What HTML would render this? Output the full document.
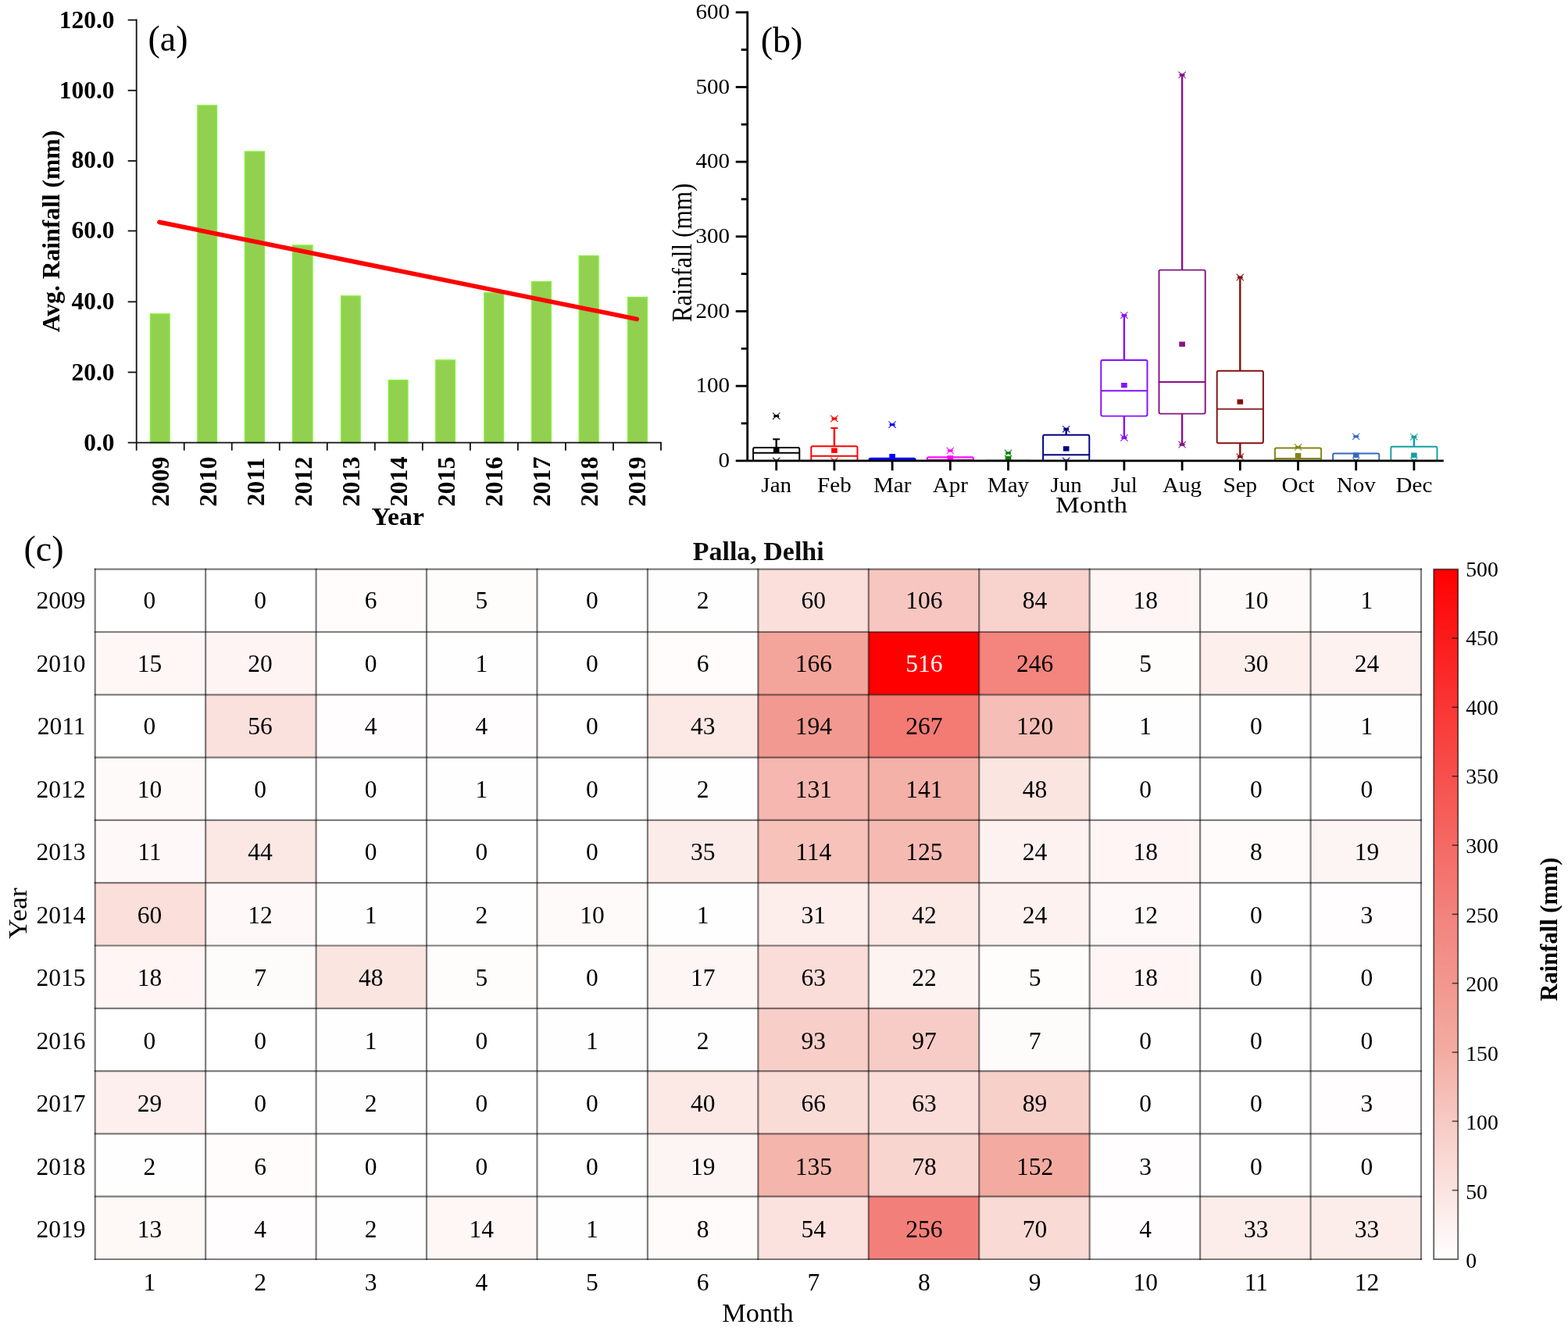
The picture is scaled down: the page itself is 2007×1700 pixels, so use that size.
<!DOCTYPE html>
<html lang="en"><head><meta charset="utf-8"><title>Rainfall at Palla, Delhi</title>
<style>html,body{margin:0;padding:0;background:#fff}body{width:2007px;height:1700px;overflow:hidden}svg{display:block;font-family:"Liberation Serif","DejaVu Serif",serif}</style></head><body>
<svg width="2007" height="1700" viewBox="0 0 2007 1700">
<rect x="0" y="0" width="2007" height="1700" fill="#ffffff"/>
<g id="panel-a">
<rect x="192.55" y="401.96" width="24.50" height="164.74" fill="#92d050" stroke="#82ee3a" stroke-width="1.5"/>
<rect x="252.95" y="135.02" width="24.50" height="431.68" fill="#92d050" stroke="#82ee3a" stroke-width="1.5"/>
<rect x="313.55" y="194.09" width="24.80" height="372.61" fill="#92d050" stroke="#82ee3a" stroke-width="1.5"/>
<rect x="374.65" y="314.03" width="25.30" height="252.67" fill="#92d050" stroke="#82ee3a" stroke-width="1.5"/>
<rect x="436.75" y="378.97" width="24.30" height="187.73" fill="#92d050" stroke="#82ee3a" stroke-width="1.5"/>
<rect x="497.45" y="486.74" width="24.40" height="79.96" fill="#92d050" stroke="#82ee3a" stroke-width="1.5"/>
<rect x="557.85" y="461.03" width="24.50" height="105.67" fill="#92d050" stroke="#82ee3a" stroke-width="1.5"/>
<rect x="619.95" y="374.91" width="24.50" height="191.79" fill="#92d050" stroke="#82ee3a" stroke-width="1.5"/>
<rect x="680.75" y="360.70" width="24.50" height="206.00" fill="#92d050" stroke="#82ee3a" stroke-width="1.5"/>
<rect x="741.35" y="327.56" width="24.70" height="239.14" fill="#92d050" stroke="#82ee3a" stroke-width="1.5"/>
<rect x="803.75" y="380.55" width="24.50" height="186.15" fill="#92d050" stroke="#82ee3a" stroke-width="1.5"/>
<line x1="174.70" y1="24.60" x2="174.70" y2="567.70" stroke="#111" stroke-width="1.8"/>
<line x1="163.70" y1="566.70" x2="847.00" y2="566.70" stroke="#111" stroke-width="1.8"/>
<text x="146.50" y="576.90" font-size="31.5" text-anchor="end" font-weight="bold" fill="#000">0.0</text>
<line x1="163.70" y1="476.52" x2="174.70" y2="476.52" stroke="#111" stroke-width="1.8"/>
<text x="146.50" y="486.82" font-size="31.5" text-anchor="end" font-weight="bold" fill="#000">20.0</text>
<line x1="163.70" y1="386.33" x2="174.70" y2="386.33" stroke="#111" stroke-width="1.8"/>
<text x="146.50" y="396.33" font-size="31.5" text-anchor="end" font-weight="bold" fill="#000">40.0</text>
<line x1="163.70" y1="295.55" x2="174.70" y2="295.55" stroke="#111" stroke-width="1.8"/>
<text x="146.50" y="305.25" font-size="31.5" text-anchor="end" font-weight="bold" fill="#000">60.0</text>
<line x1="163.70" y1="205.97" x2="174.70" y2="205.97" stroke="#111" stroke-width="1.8"/>
<text x="146.50" y="215.27" font-size="31.5" text-anchor="end" font-weight="bold" fill="#000">80.0</text>
<line x1="163.70" y1="115.78" x2="174.70" y2="115.78" stroke="#111" stroke-width="1.8"/>
<text x="146.50" y="126.08" font-size="31.5" text-anchor="end" font-weight="bold" fill="#000">100.0</text>
<line x1="163.70" y1="25.60" x2="174.70" y2="25.60" stroke="#111" stroke-width="1.8"/>
<text x="146.50" y="35.70" font-size="31.5" text-anchor="end" font-weight="bold" fill="#000">120.0</text>
<line x1="174.70" y1="566.70" x2="174.70" y2="576.70" stroke="#111" stroke-width="1.8"/>
<line x1="235.73" y1="566.70" x2="235.73" y2="576.70" stroke="#111" stroke-width="1.8"/>
<line x1="296.75" y1="566.70" x2="296.75" y2="576.70" stroke="#111" stroke-width="1.8"/>
<line x1="357.78" y1="566.70" x2="357.78" y2="576.70" stroke="#111" stroke-width="1.8"/>
<line x1="418.81" y1="566.70" x2="418.81" y2="576.70" stroke="#111" stroke-width="1.8"/>
<line x1="479.84" y1="566.70" x2="479.84" y2="576.70" stroke="#111" stroke-width="1.8"/>
<line x1="540.86" y1="566.70" x2="540.86" y2="576.70" stroke="#111" stroke-width="1.8"/>
<line x1="601.89" y1="566.70" x2="601.89" y2="576.70" stroke="#111" stroke-width="1.8"/>
<line x1="662.92" y1="566.70" x2="662.92" y2="576.70" stroke="#111" stroke-width="1.8"/>
<line x1="723.95" y1="566.70" x2="723.95" y2="576.70" stroke="#111" stroke-width="1.8"/>
<line x1="784.97" y1="566.70" x2="784.97" y2="576.70" stroke="#111" stroke-width="1.8"/>
<line x1="846.00" y1="566.70" x2="846.00" y2="576.70" stroke="#111" stroke-width="1.8"/>
<text transform="translate(216.01 616.60) rotate(-90) scale(1.015 1)" font-size="31.5" text-anchor="middle" font-weight="bold" fill="#000">2009</text>
<text transform="translate(277.04 616.60) rotate(-90) scale(1.015 1)" font-size="31.5" text-anchor="middle" font-weight="bold" fill="#000">2010</text>
<text transform="translate(338.07 616.60) rotate(-90) scale(1.015 1)" font-size="31.5" text-anchor="middle" font-weight="bold" fill="#000">2011</text>
<text transform="translate(399.10 616.60) rotate(-90) scale(1.015 1)" font-size="31.5" text-anchor="middle" font-weight="bold" fill="#000">2012</text>
<text transform="translate(460.12 616.60) rotate(-90) scale(1.015 1)" font-size="31.5" text-anchor="middle" font-weight="bold" fill="#000">2013</text>
<text transform="translate(521.15 616.60) rotate(-90) scale(1.015 1)" font-size="31.5" text-anchor="middle" font-weight="bold" fill="#000">2014</text>
<text transform="translate(582.18 616.60) rotate(-90) scale(1.015 1)" font-size="31.5" text-anchor="middle" font-weight="bold" fill="#000">2015</text>
<text transform="translate(643.20 616.60) rotate(-90) scale(1.015 1)" font-size="31.5" text-anchor="middle" font-weight="bold" fill="#000">2016</text>
<text transform="translate(704.23 616.60) rotate(-90) scale(1.015 1)" font-size="31.5" text-anchor="middle" font-weight="bold" fill="#000">2017</text>
<text transform="translate(765.26 616.60) rotate(-90) scale(1.015 1)" font-size="31.5" text-anchor="middle" font-weight="bold" fill="#000">2018</text>
<text transform="translate(826.29 616.60) rotate(-90) scale(1.015 1)" font-size="31.5" text-anchor="middle" font-weight="bold" fill="#000">2019</text>
<line x1="204.0" y1="284.4" x2="815.2" y2="408.5" stroke="#ff0000" stroke-width="5.7" stroke-linecap="round"/>
<text transform="translate(76.00 296.00) rotate(-90) scale(1.02 1)" font-size="31" text-anchor="middle" font-weight="bold" fill="#000">Avg. Rainfall (mm)</text>
<text transform="translate(509.20 672.20) scale(1.09 1)" font-size="31" text-anchor="middle" font-weight="bold" fill="#000">Year</text>
<text x="215.00" y="64.80" font-size="46" text-anchor="middle" fill="#000">(a)</text>
</g>
<g id="panel-b">
<defs><clipPath id="clipb"><rect x="940" y="0" width="940" height="590.40"/></clipPath></defs>
<g stroke="#000000" fill="none" stroke-width="1.95" stroke-linejoin="round" clip-path="url(#clipb)">
<rect x="964.10" y="573.00" width="59.20" height="18.50" rx="2"/>
<line x1="964.10" y1="579.70" x2="1023.30" y2="579.70"/>
<line x1="993.70" y1="562.30" x2="993.70" y2="573.00" stroke-width="2.4"/>
<line x1="989.20" y1="562.30" x2="998.20" y2="562.30"/>
<path d="M989.00 528.40L998.40 536.80M989.00 536.80L998.40 528.40" stroke-width="1.15" stroke-opacity="0.85"/>
<path d="M990.30 532.60L997.10 532.60" stroke-width="2.9"/>
<path d="M989.00 585.70L998.40 594.10M989.00 594.10L998.40 585.70" stroke-width="1.15" stroke-opacity="0.85"/>
<path d="M990.30 589.90L997.10 589.90" stroke-width="2.9"/>
<rect x="989.90" y="573.00" width="7.6" height="6.4" fill="#000000" stroke="none"/>
</g>
<g stroke="#ff0000" fill="none" stroke-width="1.95" stroke-linejoin="round" clip-path="url(#clipb)">
<rect x="1038.30" y="571.20" width="59.20" height="20.30" rx="2"/>
<line x1="1038.30" y1="583.70" x2="1097.50" y2="583.70"/>
<line x1="1067.90" y1="548.00" x2="1067.90" y2="571.20" stroke-width="2.4"/>
<line x1="1063.40" y1="548.00" x2="1072.40" y2="548.00"/>
<path d="M1063.20 531.80L1072.60 540.20M1063.20 540.20L1072.60 531.80" stroke-width="1.15" stroke-opacity="0.85"/>
<path d="M1064.50 536.00L1071.30 536.00" stroke-width="2.9"/>
<path d="M1063.20 585.70L1072.60 594.10M1063.20 594.10L1072.60 585.70" stroke-width="1.15" stroke-opacity="0.85"/>
<path d="M1064.50 589.90L1071.30 589.90" stroke-width="2.9"/>
<rect x="1064.10" y="573.50" width="7.6" height="6.4" fill="#ff0000" stroke="none"/>
</g>
<g stroke="#0000ff" fill="none" stroke-width="1.95" stroke-linejoin="round" clip-path="url(#clipb)">
<rect x="1112.50" y="586.70" width="59.20" height="4.80" rx="2"/>
<line x1="1112.50" y1="588.20" x2="1171.70" y2="588.20"/>
<path d="M1137.40 539.40L1146.80 547.80M1137.40 547.80L1146.80 539.40" stroke-width="1.15" stroke-opacity="0.85"/>
<path d="M1138.70 543.60L1145.50 543.60" stroke-width="2.9"/>
<rect x="1138.30" y="581.00" width="7.6" height="6.4" fill="#0000ff" stroke="none"/>
</g>
<g stroke="#ff00ff" fill="none" stroke-width="1.95" stroke-linejoin="round" clip-path="url(#clipb)">
<rect x="1186.70" y="585.20" width="59.20" height="6.30" rx="2"/>
<line x1="1186.70" y1="588.60" x2="1245.90" y2="588.60"/>
<path d="M1211.60 572.70L1221.00 581.10M1211.60 581.10L1221.00 572.70" stroke-width="1.15" stroke-opacity="0.85"/>
<path d="M1212.90 576.90L1219.70 576.90" stroke-width="2.9"/>
<rect x="1212.50" y="583.10" width="7.6" height="6.4" fill="#ff00ff" stroke="none"/>
</g>
<g stroke="#008000" fill="none" stroke-width="1.95" stroke-linejoin="round" clip-path="url(#clipb)">
<rect x="1260.90" y="589.70" width="59.20" height="1.80" rx="2"/>
<line x1="1260.90" y1="590.50" x2="1320.10" y2="590.50"/>
<path d="M1285.80 575.70L1295.20 584.10M1285.80 584.10L1295.20 575.70" stroke-width="1.15" stroke-opacity="0.85"/>
<path d="M1287.10 579.90L1293.90 579.90" stroke-width="2.9"/>
<rect x="1286.70" y="584.00" width="7.6" height="6.4" fill="#008000" stroke="none"/>
</g>
<g stroke="#000080" fill="none" stroke-width="1.95" stroke-linejoin="round" clip-path="url(#clipb)">
<rect x="1335.10" y="556.80" width="59.20" height="34.70" rx="2"/>
<line x1="1335.10" y1="582.20" x2="1394.30" y2="582.20"/>
<line x1="1364.70" y1="549.30" x2="1364.70" y2="556.80" stroke-width="2.4"/>
<path d="M1360.00 545.10L1369.40 553.50M1360.00 553.50L1369.40 545.10" stroke-width="1.15" stroke-opacity="0.85"/>
<path d="M1361.30 549.30L1368.10 549.30" stroke-width="2.9"/>
<path d="M1360.00 585.70L1369.40 594.10M1360.00 594.10L1369.40 585.70" stroke-width="1.15" stroke-opacity="0.85"/>
<path d="M1361.30 589.90L1368.10 589.90" stroke-width="2.9"/>
<rect x="1360.90" y="571.20" width="7.6" height="6.4" fill="#000080" stroke="none"/>
</g>
<g stroke="#8410ff" fill="none" stroke-width="1.95" stroke-linejoin="round" clip-path="url(#clipb)">
<rect x="1409.30" y="460.90" width="59.20" height="71.70" rx="2"/>
<line x1="1409.30" y1="500.20" x2="1468.50" y2="500.20"/>
<line x1="1438.90" y1="403.60" x2="1438.90" y2="460.90" stroke-width="2.4"/>
<line x1="1438.90" y1="532.60" x2="1438.90" y2="560.50" stroke-width="2.4"/>
<path d="M1434.20 399.40L1443.60 407.80M1434.20 407.80L1443.60 399.40" stroke-width="1.15" stroke-opacity="0.85"/>
<path d="M1435.50 403.60L1442.30 403.60" stroke-width="2.9"/>
<path d="M1434.20 556.30L1443.60 564.70M1434.20 564.70L1443.60 556.30" stroke-width="1.15" stroke-opacity="0.85"/>
<path d="M1435.50 560.50L1442.30 560.50" stroke-width="2.9"/>
<rect x="1435.10" y="490.00" width="7.6" height="6.4" fill="#8410ff" stroke="none"/>
</g>
<g stroke="#861286" fill="none" stroke-width="1.95" stroke-linejoin="round" clip-path="url(#clipb)">
<rect x="1483.50" y="345.60" width="59.20" height="184.00" rx="2"/>
<line x1="1483.50" y1="488.90" x2="1542.70" y2="488.90"/>
<line x1="1513.10" y1="95.90" x2="1513.10" y2="345.60" stroke-width="2.4"/>
<line x1="1513.10" y1="529.60" x2="1513.10" y2="569.20" stroke-width="2.4"/>
<path d="M1508.40 91.70L1517.80 100.10M1508.40 100.10L1517.80 91.70" stroke-width="1.15" stroke-opacity="0.85"/>
<path d="M1509.70 95.90L1516.50 95.90" stroke-width="2.9"/>
<path d="M1508.40 565.00L1517.80 573.40M1508.40 573.40L1517.80 565.00" stroke-width="1.15" stroke-opacity="0.85"/>
<path d="M1509.70 569.20L1516.50 569.20" stroke-width="2.9"/>
<rect x="1509.30" y="437.40" width="7.6" height="6.4" fill="#861286" stroke="none"/>
</g>
<g stroke="#851010" fill="none" stroke-width="1.95" stroke-linejoin="round" clip-path="url(#clipb)">
<rect x="1557.70" y="474.80" width="59.20" height="92.40" rx="2"/>
<line x1="1557.70" y1="523.60" x2="1616.90" y2="523.60"/>
<line x1="1587.30" y1="355.00" x2="1587.30" y2="474.80" stroke-width="2.4"/>
<line x1="1587.30" y1="567.20" x2="1587.30" y2="584.70" stroke-width="2.4"/>
<path d="M1582.60 350.80L1592.00 359.20M1582.60 359.20L1592.00 350.80" stroke-width="1.15" stroke-opacity="0.85"/>
<path d="M1583.90 355.00L1590.70 355.00" stroke-width="2.9"/>
<path d="M1582.60 580.50L1592.00 588.90M1582.60 588.90L1592.00 580.50" stroke-width="1.15" stroke-opacity="0.85"/>
<path d="M1583.90 584.70L1590.70 584.70" stroke-width="2.9"/>
<rect x="1583.50" y="511.20" width="7.6" height="6.4" fill="#851010" stroke="none"/>
</g>
<g stroke="#848410" fill="none" stroke-width="1.95" stroke-linejoin="round" clip-path="url(#clipb)">
<rect x="1631.90" y="573.50" width="59.20" height="18.00" rx="2"/>
<line x1="1631.90" y1="586.90" x2="1691.10" y2="586.90"/>
<path d="M1656.80 568.20L1666.20 576.60M1656.80 576.60L1666.20 568.20" stroke-width="1.15" stroke-opacity="0.85"/>
<path d="M1658.10 572.40L1664.90 572.40" stroke-width="2.9"/>
<rect x="1657.70" y="580.00" width="7.6" height="6.4" fill="#848410" stroke="none"/>
</g>
<g stroke="#3468c4" fill="none" stroke-width="1.95" stroke-linejoin="round" clip-path="url(#clipb)">
<rect x="1706.10" y="580.40" width="59.20" height="11.10" rx="2"/>
<line x1="1706.10" y1="590.50" x2="1765.30" y2="590.50"/>
<path d="M1731.00 554.60L1740.40 563.00M1731.00 563.00L1740.40 554.60" stroke-width="1.15" stroke-opacity="0.85"/>
<path d="M1732.30 558.80L1739.10 558.80" stroke-width="2.9"/>
<path d="M1731.00 585.70L1740.40 594.10M1731.00 594.10L1740.40 585.70" stroke-width="1.15" stroke-opacity="0.85"/>
<path d="M1732.30 589.90L1739.10 589.90" stroke-width="2.9"/>
<rect x="1731.90" y="579.50" width="7.6" height="6.4" fill="#3468c4" stroke="none"/>
</g>
<g stroke="#10a0a0" fill="none" stroke-width="1.95" stroke-linejoin="round" clip-path="url(#clipb)">
<rect x="1780.30" y="571.70" width="59.20" height="19.80" rx="2"/>
<line x1="1780.30" y1="590.50" x2="1839.50" y2="590.50"/>
<line x1="1809.90" y1="559.30" x2="1809.90" y2="571.70" stroke-width="2.4"/>
<path d="M1805.20 555.10L1814.60 563.50M1805.20 563.50L1814.60 555.10" stroke-width="1.15" stroke-opacity="0.85"/>
<path d="M1806.50 559.30L1813.30 559.30" stroke-width="2.9"/>
<path d="M1805.20 585.70L1814.60 594.10M1805.20 594.10L1814.60 585.70" stroke-width="1.15" stroke-opacity="0.85"/>
<path d="M1806.50 589.90L1813.30 589.90" stroke-width="2.9"/>
<rect x="1806.10" y="579.50" width="7.6" height="6.4" fill="#10a0a0" stroke="none"/>
</g>
<line x1="956.70" y1="14.50" x2="956.70" y2="591.10" stroke="#000" stroke-width="2.8"/>
<line x1="941.70" y1="589.80" x2="1847.80" y2="589.80" stroke="#000" stroke-width="2.8"/>
<text transform="translate(934.00 598.00) scale(1.085 1)" font-size="26.8" text-anchor="end" fill="#000">0</text>
<line x1="948.70" y1="541.97" x2="956.70" y2="541.97" stroke="#000" stroke-width="2.8"/>
<line x1="941.70" y1="494.13" x2="956.70" y2="494.13" stroke="#000" stroke-width="2.8"/>
<text transform="translate(934.00 502.33) scale(1.085 1)" font-size="26.8" text-anchor="end" fill="#000">100</text>
<line x1="948.70" y1="446.30" x2="956.70" y2="446.30" stroke="#000" stroke-width="2.8"/>
<line x1="941.70" y1="398.47" x2="956.70" y2="398.47" stroke="#000" stroke-width="2.8"/>
<text transform="translate(934.00 406.67) scale(1.085 1)" font-size="26.8" text-anchor="end" fill="#000">200</text>
<line x1="948.70" y1="350.63" x2="956.70" y2="350.63" stroke="#000" stroke-width="2.8"/>
<line x1="941.70" y1="302.80" x2="956.70" y2="302.80" stroke="#000" stroke-width="2.8"/>
<text transform="translate(934.00 311.00) scale(1.085 1)" font-size="26.8" text-anchor="end" fill="#000">300</text>
<line x1="948.70" y1="254.97" x2="956.70" y2="254.97" stroke="#000" stroke-width="2.8"/>
<line x1="941.70" y1="207.13" x2="956.70" y2="207.13" stroke="#000" stroke-width="2.8"/>
<text transform="translate(934.00 215.33) scale(1.085 1)" font-size="26.8" text-anchor="end" fill="#000">400</text>
<line x1="948.70" y1="159.30" x2="956.70" y2="159.30" stroke="#000" stroke-width="2.8"/>
<line x1="941.70" y1="111.47" x2="956.70" y2="111.47" stroke="#000" stroke-width="2.8"/>
<text transform="translate(934.00 119.67) scale(1.085 1)" font-size="26.8" text-anchor="end" fill="#000">500</text>
<line x1="948.70" y1="63.63" x2="956.70" y2="63.63" stroke="#000" stroke-width="2.8"/>
<line x1="941.70" y1="15.80" x2="956.70" y2="15.80" stroke="#000" stroke-width="2.8"/>
<text transform="translate(934.00 24.00) scale(1.085 1)" font-size="26.8" text-anchor="end" fill="#000">600</text>
<line x1="993.70" y1="589.80" x2="993.70" y2="602.30" stroke="#000" stroke-width="2.8"/>
<text transform="translate(993.70 629.50) scale(1.085 1)" font-size="26.8" text-anchor="middle" fill="#000">Jan</text>
<line x1="1067.90" y1="589.80" x2="1067.90" y2="602.30" stroke="#000" stroke-width="2.8"/>
<text transform="translate(1067.90 629.50) scale(1.085 1)" font-size="26.8" text-anchor="middle" fill="#000">Feb</text>
<line x1="1142.10" y1="589.80" x2="1142.10" y2="602.30" stroke="#000" stroke-width="2.8"/>
<text transform="translate(1142.10 629.50) scale(1.085 1)" font-size="26.8" text-anchor="middle" fill="#000">Mar</text>
<line x1="1216.30" y1="589.80" x2="1216.30" y2="602.30" stroke="#000" stroke-width="2.8"/>
<text transform="translate(1216.30 629.50) scale(1.085 1)" font-size="26.8" text-anchor="middle" fill="#000">Apr</text>
<line x1="1290.50" y1="589.80" x2="1290.50" y2="602.30" stroke="#000" stroke-width="2.8"/>
<text transform="translate(1290.50 629.50) scale(1.085 1)" font-size="26.8" text-anchor="middle" fill="#000">May</text>
<line x1="1364.70" y1="589.80" x2="1364.70" y2="602.30" stroke="#000" stroke-width="2.8"/>
<text transform="translate(1364.70 629.50) scale(1.085 1)" font-size="26.8" text-anchor="middle" fill="#000">Jun</text>
<line x1="1438.90" y1="589.80" x2="1438.90" y2="602.30" stroke="#000" stroke-width="2.8"/>
<text transform="translate(1438.90 629.50) scale(1.085 1)" font-size="26.8" text-anchor="middle" fill="#000">Jul</text>
<line x1="1513.10" y1="589.80" x2="1513.10" y2="602.30" stroke="#000" stroke-width="2.8"/>
<text transform="translate(1513.10 629.50) scale(1.085 1)" font-size="26.8" text-anchor="middle" fill="#000">Aug</text>
<line x1="1587.30" y1="589.80" x2="1587.30" y2="602.30" stroke="#000" stroke-width="2.8"/>
<text transform="translate(1587.30 629.50) scale(1.085 1)" font-size="26.8" text-anchor="middle" fill="#000">Sep</text>
<line x1="1661.50" y1="589.80" x2="1661.50" y2="602.30" stroke="#000" stroke-width="2.8"/>
<text transform="translate(1661.50 629.50) scale(1.085 1)" font-size="26.8" text-anchor="middle" fill="#000">Oct</text>
<line x1="1735.70" y1="589.80" x2="1735.70" y2="602.30" stroke="#000" stroke-width="2.8"/>
<text transform="translate(1735.70 629.50) scale(1.085 1)" font-size="26.8" text-anchor="middle" fill="#000">Nov</text>
<line x1="1809.90" y1="589.80" x2="1809.90" y2="602.30" stroke="#000" stroke-width="2.8"/>
<text transform="translate(1809.90 629.50) scale(1.085 1)" font-size="26.8" text-anchor="middle" fill="#000">Dec</text>
<text transform="translate(884.50 323.50) rotate(-90) scale(0.86 1)" font-size="36.3" text-anchor="middle" fill="#000">Rainfall (mm)</text>
<text transform="translate(1397.00 656.20) scale(1.17 1)" font-size="29.5" text-anchor="middle" fill="#000">Month</text>
<text x="1000.50" y="67.30" font-size="46" text-anchor="middle" fill="#000">(b)</text>
</g>
<g id="panel-c">
<rect x="121.70" y="728.70" width="141.74" height="80.60" fill="rgb(255,255,255)" stroke="none" stroke-width="1"/>
<rect x="263.14" y="728.70" width="141.74" height="80.60" fill="rgb(255,255,255)" stroke="none" stroke-width="1"/>
<rect x="404.58" y="728.70" width="141.74" height="80.60" fill="rgb(255,252,251)" stroke="none" stroke-width="1"/>
<rect x="546.02" y="728.70" width="141.74" height="80.60" fill="rgb(255,252,252)" stroke="none" stroke-width="1"/>
<rect x="687.47" y="728.70" width="141.74" height="80.60" fill="rgb(255,255,255)" stroke="none" stroke-width="1"/>
<rect x="828.91" y="728.70" width="141.74" height="80.60" fill="rgb(255,254,254)" stroke="none" stroke-width="1"/>
<rect x="970.35" y="728.70" width="141.74" height="80.60" fill="rgb(250,223,218)" stroke="none" stroke-width="1"/>
<rect x="1111.79" y="728.70" width="141.74" height="80.60" fill="rgb(247,198,192)" stroke="none" stroke-width="1"/>
<rect x="1253.23" y="728.70" width="141.74" height="80.60" fill="rgb(248,210,205)" stroke="none" stroke-width="1"/>
<rect x="1394.67" y="728.70" width="141.74" height="80.60" fill="rgb(254,245,244)" stroke="none" stroke-width="1"/>
<rect x="1536.12" y="728.70" width="141.74" height="80.60" fill="rgb(254,250,249)" stroke="none" stroke-width="1"/>
<rect x="1677.56" y="728.70" width="141.74" height="80.60" fill="rgb(255,254,254)" stroke="none" stroke-width="1"/>
<rect x="121.70" y="809.00" width="141.74" height="80.60" fill="rgb(254,247,246)" stroke="none" stroke-width="1"/>
<rect x="263.14" y="809.00" width="141.74" height="80.60" fill="rgb(253,244,243)" stroke="none" stroke-width="1"/>
<rect x="404.58" y="809.00" width="141.74" height="80.60" fill="rgb(255,255,255)" stroke="none" stroke-width="1"/>
<rect x="546.02" y="809.00" width="141.74" height="80.60" fill="rgb(255,254,254)" stroke="none" stroke-width="1"/>
<rect x="687.47" y="809.00" width="141.74" height="80.60" fill="rgb(255,255,255)" stroke="none" stroke-width="1"/>
<rect x="828.91" y="809.00" width="141.74" height="80.60" fill="rgb(255,252,251)" stroke="none" stroke-width="1"/>
<rect x="970.35" y="809.00" width="141.74" height="80.60" fill="rgb(243,165,156)" stroke="none" stroke-width="1"/>
<rect x="1111.79" y="809.00" width="141.74" height="80.60" fill="rgb(255,0,0)" stroke="none" stroke-width="1"/>
<rect x="1253.23" y="809.00" width="141.74" height="80.60" fill="rgb(243,132,126)" stroke="none" stroke-width="1"/>
<rect x="1394.67" y="809.00" width="141.74" height="80.60" fill="rgb(255,252,252)" stroke="none" stroke-width="1"/>
<rect x="1536.12" y="809.00" width="141.74" height="80.60" fill="rgb(253,239,236)" stroke="none" stroke-width="1"/>
<rect x="1677.56" y="809.00" width="141.74" height="80.60" fill="rgb(253,242,240)" stroke="none" stroke-width="1"/>
<rect x="121.70" y="889.30" width="141.74" height="80.60" fill="rgb(255,255,255)" stroke="none" stroke-width="1"/>
<rect x="263.14" y="889.30" width="141.74" height="80.60" fill="rgb(251,225,221)" stroke="none" stroke-width="1"/>
<rect x="404.58" y="889.30" width="141.74" height="80.60" fill="rgb(255,253,253)" stroke="none" stroke-width="1"/>
<rect x="546.02" y="889.30" width="141.74" height="80.60" fill="rgb(255,253,253)" stroke="none" stroke-width="1"/>
<rect x="687.47" y="889.30" width="141.74" height="80.60" fill="rgb(255,255,255)" stroke="none" stroke-width="1"/>
<rect x="828.91" y="889.30" width="141.74" height="80.60" fill="rgb(252,232,228)" stroke="none" stroke-width="1"/>
<rect x="970.35" y="889.30" width="141.74" height="80.60" fill="rgb(242,154,145)" stroke="none" stroke-width="1"/>
<rect x="1111.79" y="889.30" width="141.74" height="80.60" fill="rgb(244,122,116)" stroke="none" stroke-width="1"/>
<rect x="1253.23" y="889.30" width="141.74" height="80.60" fill="rgb(245,190,182)" stroke="none" stroke-width="1"/>
<rect x="1394.67" y="889.30" width="141.74" height="80.60" fill="rgb(255,254,254)" stroke="none" stroke-width="1"/>
<rect x="1536.12" y="889.30" width="141.74" height="80.60" fill="rgb(255,255,255)" stroke="none" stroke-width="1"/>
<rect x="1677.56" y="889.30" width="141.74" height="80.60" fill="rgb(255,254,254)" stroke="none" stroke-width="1"/>
<rect x="121.70" y="969.60" width="141.74" height="80.60" fill="rgb(254,250,249)" stroke="none" stroke-width="1"/>
<rect x="263.14" y="969.60" width="141.74" height="80.60" fill="rgb(255,255,255)" stroke="none" stroke-width="1"/>
<rect x="404.58" y="969.60" width="141.74" height="80.60" fill="rgb(255,255,255)" stroke="none" stroke-width="1"/>
<rect x="546.02" y="969.60" width="141.74" height="80.60" fill="rgb(255,254,254)" stroke="none" stroke-width="1"/>
<rect x="687.47" y="969.60" width="141.74" height="80.60" fill="rgb(255,255,255)" stroke="none" stroke-width="1"/>
<rect x="828.91" y="969.60" width="141.74" height="80.60" fill="rgb(255,254,254)" stroke="none" stroke-width="1"/>
<rect x="970.35" y="969.60" width="141.74" height="80.60" fill="rgb(245,183,175)" stroke="none" stroke-width="1"/>
<rect x="1111.79" y="969.60" width="141.74" height="80.60" fill="rgb(244,177,168)" stroke="none" stroke-width="1"/>
<rect x="1253.23" y="969.60" width="141.74" height="80.60" fill="rgb(251,229,225)" stroke="none" stroke-width="1"/>
<rect x="1394.67" y="969.60" width="141.74" height="80.60" fill="rgb(255,255,255)" stroke="none" stroke-width="1"/>
<rect x="1536.12" y="969.60" width="141.74" height="80.60" fill="rgb(255,255,255)" stroke="none" stroke-width="1"/>
<rect x="1677.56" y="969.60" width="141.74" height="80.60" fill="rgb(255,255,255)" stroke="none" stroke-width="1"/>
<rect x="121.70" y="1049.90" width="141.74" height="80.60" fill="rgb(254,249,248)" stroke="none" stroke-width="1"/>
<rect x="263.14" y="1049.90" width="141.74" height="80.60" fill="rgb(251,231,228)" stroke="none" stroke-width="1"/>
<rect x="404.58" y="1049.90" width="141.74" height="80.60" fill="rgb(255,255,255)" stroke="none" stroke-width="1"/>
<rect x="546.02" y="1049.90" width="141.74" height="80.60" fill="rgb(255,255,255)" stroke="none" stroke-width="1"/>
<rect x="687.47" y="1049.90" width="141.74" height="80.60" fill="rgb(255,255,255)" stroke="none" stroke-width="1"/>
<rect x="828.91" y="1049.90" width="141.74" height="80.60" fill="rgb(252,236,233)" stroke="none" stroke-width="1"/>
<rect x="970.35" y="1049.90" width="141.74" height="80.60" fill="rgb(246,194,186)" stroke="none" stroke-width="1"/>
<rect x="1111.79" y="1049.90" width="141.74" height="80.60" fill="rgb(245,187,179)" stroke="none" stroke-width="1"/>
<rect x="1253.23" y="1049.90" width="141.74" height="80.60" fill="rgb(253,242,240)" stroke="none" stroke-width="1"/>
<rect x="1394.67" y="1049.90" width="141.74" height="80.60" fill="rgb(254,245,244)" stroke="none" stroke-width="1"/>
<rect x="1536.12" y="1049.90" width="141.74" height="80.60" fill="rgb(254,251,250)" stroke="none" stroke-width="1"/>
<rect x="1677.56" y="1049.90" width="141.74" height="80.60" fill="rgb(253,245,243)" stroke="none" stroke-width="1"/>
<rect x="121.70" y="1130.20" width="141.74" height="80.60" fill="rgb(250,223,218)" stroke="none" stroke-width="1"/>
<rect x="263.14" y="1130.20" width="141.74" height="80.60" fill="rgb(254,249,248)" stroke="none" stroke-width="1"/>
<rect x="404.58" y="1130.20" width="141.74" height="80.60" fill="rgb(255,254,254)" stroke="none" stroke-width="1"/>
<rect x="546.02" y="1130.20" width="141.74" height="80.60" fill="rgb(255,254,254)" stroke="none" stroke-width="1"/>
<rect x="687.47" y="1130.20" width="141.74" height="80.60" fill="rgb(254,250,249)" stroke="none" stroke-width="1"/>
<rect x="828.91" y="1130.20" width="141.74" height="80.60" fill="rgb(255,254,254)" stroke="none" stroke-width="1"/>
<rect x="970.35" y="1130.20" width="141.74" height="80.60" fill="rgb(253,238,236)" stroke="none" stroke-width="1"/>
<rect x="1111.79" y="1130.20" width="141.74" height="80.60" fill="rgb(252,232,229)" stroke="none" stroke-width="1"/>
<rect x="1253.23" y="1130.20" width="141.74" height="80.60" fill="rgb(253,242,240)" stroke="none" stroke-width="1"/>
<rect x="1394.67" y="1130.20" width="141.74" height="80.60" fill="rgb(254,249,248)" stroke="none" stroke-width="1"/>
<rect x="1536.12" y="1130.20" width="141.74" height="80.60" fill="rgb(255,255,255)" stroke="none" stroke-width="1"/>
<rect x="1677.56" y="1130.20" width="141.74" height="80.60" fill="rgb(255,253,253)" stroke="none" stroke-width="1"/>
<rect x="121.70" y="1210.50" width="141.74" height="80.60" fill="rgb(254,245,244)" stroke="none" stroke-width="1"/>
<rect x="263.14" y="1210.50" width="141.74" height="80.60" fill="rgb(254,251,251)" stroke="none" stroke-width="1"/>
<rect x="404.58" y="1210.50" width="141.74" height="80.60" fill="rgb(251,229,225)" stroke="none" stroke-width="1"/>
<rect x="546.02" y="1210.50" width="141.74" height="80.60" fill="rgb(255,252,252)" stroke="none" stroke-width="1"/>
<rect x="687.47" y="1210.50" width="141.74" height="80.60" fill="rgb(255,255,255)" stroke="none" stroke-width="1"/>
<rect x="828.91" y="1210.50" width="141.74" height="80.60" fill="rgb(254,246,244)" stroke="none" stroke-width="1"/>
<rect x="970.35" y="1210.50" width="141.74" height="80.60" fill="rgb(250,221,217)" stroke="none" stroke-width="1"/>
<rect x="1111.79" y="1210.50" width="141.74" height="80.60" fill="rgb(253,243,241)" stroke="none" stroke-width="1"/>
<rect x="1253.23" y="1210.50" width="141.74" height="80.60" fill="rgb(255,252,252)" stroke="none" stroke-width="1"/>
<rect x="1394.67" y="1210.50" width="141.74" height="80.60" fill="rgb(254,245,244)" stroke="none" stroke-width="1"/>
<rect x="1536.12" y="1210.50" width="141.74" height="80.60" fill="rgb(255,255,255)" stroke="none" stroke-width="1"/>
<rect x="1677.56" y="1210.50" width="141.74" height="80.60" fill="rgb(255,255,255)" stroke="none" stroke-width="1"/>
<rect x="121.70" y="1290.80" width="141.74" height="80.60" fill="rgb(255,255,255)" stroke="none" stroke-width="1"/>
<rect x="263.14" y="1290.80" width="141.74" height="80.60" fill="rgb(255,255,255)" stroke="none" stroke-width="1"/>
<rect x="404.58" y="1290.80" width="141.74" height="80.60" fill="rgb(255,254,254)" stroke="none" stroke-width="1"/>
<rect x="546.02" y="1290.80" width="141.74" height="80.60" fill="rgb(255,255,255)" stroke="none" stroke-width="1"/>
<rect x="687.47" y="1290.80" width="141.74" height="80.60" fill="rgb(255,254,254)" stroke="none" stroke-width="1"/>
<rect x="828.91" y="1290.80" width="141.74" height="80.60" fill="rgb(255,254,254)" stroke="none" stroke-width="1"/>
<rect x="970.35" y="1290.80" width="141.74" height="80.60" fill="rgb(248,206,200)" stroke="none" stroke-width="1"/>
<rect x="1111.79" y="1290.80" width="141.74" height="80.60" fill="rgb(247,204,198)" stroke="none" stroke-width="1"/>
<rect x="1253.23" y="1290.80" width="141.74" height="80.60" fill="rgb(254,251,251)" stroke="none" stroke-width="1"/>
<rect x="1394.67" y="1290.80" width="141.74" height="80.60" fill="rgb(255,255,255)" stroke="none" stroke-width="1"/>
<rect x="1536.12" y="1290.80" width="141.74" height="80.60" fill="rgb(255,255,255)" stroke="none" stroke-width="1"/>
<rect x="1677.56" y="1290.80" width="141.74" height="80.60" fill="rgb(255,255,255)" stroke="none" stroke-width="1"/>
<rect x="121.70" y="1371.10" width="141.74" height="80.60" fill="rgb(253,239,237)" stroke="none" stroke-width="1"/>
<rect x="263.14" y="1371.10" width="141.74" height="80.60" fill="rgb(255,255,255)" stroke="none" stroke-width="1"/>
<rect x="404.58" y="1371.10" width="141.74" height="80.60" fill="rgb(255,254,254)" stroke="none" stroke-width="1"/>
<rect x="546.02" y="1371.10" width="141.74" height="80.60" fill="rgb(255,255,255)" stroke="none" stroke-width="1"/>
<rect x="687.47" y="1371.10" width="141.74" height="80.60" fill="rgb(255,255,255)" stroke="none" stroke-width="1"/>
<rect x="828.91" y="1371.10" width="141.74" height="80.60" fill="rgb(252,233,230)" stroke="none" stroke-width="1"/>
<rect x="970.35" y="1371.10" width="141.74" height="80.60" fill="rgb(250,220,215)" stroke="none" stroke-width="1"/>
<rect x="1111.79" y="1371.10" width="141.74" height="80.60" fill="rgb(250,221,217)" stroke="none" stroke-width="1"/>
<rect x="1253.23" y="1371.10" width="141.74" height="80.60" fill="rgb(248,208,202)" stroke="none" stroke-width="1"/>
<rect x="1394.67" y="1371.10" width="141.74" height="80.60" fill="rgb(255,255,255)" stroke="none" stroke-width="1"/>
<rect x="1536.12" y="1371.10" width="141.74" height="80.60" fill="rgb(255,255,255)" stroke="none" stroke-width="1"/>
<rect x="1677.56" y="1371.10" width="141.74" height="80.60" fill="rgb(255,253,253)" stroke="none" stroke-width="1"/>
<rect x="121.70" y="1451.40" width="141.74" height="80.60" fill="rgb(255,254,254)" stroke="none" stroke-width="1"/>
<rect x="263.14" y="1451.40" width="141.74" height="80.60" fill="rgb(255,252,251)" stroke="none" stroke-width="1"/>
<rect x="404.58" y="1451.40" width="141.74" height="80.60" fill="rgb(255,255,255)" stroke="none" stroke-width="1"/>
<rect x="546.02" y="1451.40" width="141.74" height="80.60" fill="rgb(255,255,255)" stroke="none" stroke-width="1"/>
<rect x="687.47" y="1451.40" width="141.74" height="80.60" fill="rgb(255,255,255)" stroke="none" stroke-width="1"/>
<rect x="828.91" y="1451.40" width="141.74" height="80.60" fill="rgb(253,245,243)" stroke="none" stroke-width="1"/>
<rect x="970.35" y="1451.40" width="141.74" height="80.60" fill="rgb(244,181,172)" stroke="none" stroke-width="1"/>
<rect x="1111.79" y="1451.40" width="141.74" height="80.60" fill="rgb(249,213,208)" stroke="none" stroke-width="1"/>
<rect x="1253.23" y="1451.40" width="141.74" height="80.60" fill="rgb(243,171,161)" stroke="none" stroke-width="1"/>
<rect x="1394.67" y="1451.40" width="141.74" height="80.60" fill="rgb(255,253,253)" stroke="none" stroke-width="1"/>
<rect x="1536.12" y="1451.40" width="141.74" height="80.60" fill="rgb(255,255,255)" stroke="none" stroke-width="1"/>
<rect x="1677.56" y="1451.40" width="141.74" height="80.60" fill="rgb(255,255,255)" stroke="none" stroke-width="1"/>
<rect x="121.70" y="1531.70" width="141.74" height="80.60" fill="rgb(254,248,247)" stroke="none" stroke-width="1"/>
<rect x="263.14" y="1531.70" width="141.74" height="80.60" fill="rgb(255,253,253)" stroke="none" stroke-width="1"/>
<rect x="404.58" y="1531.70" width="141.74" height="80.60" fill="rgb(255,254,254)" stroke="none" stroke-width="1"/>
<rect x="546.02" y="1531.70" width="141.74" height="80.60" fill="rgb(254,247,246)" stroke="none" stroke-width="1"/>
<rect x="687.47" y="1531.70" width="141.74" height="80.60" fill="rgb(255,254,254)" stroke="none" stroke-width="1"/>
<rect x="828.91" y="1531.70" width="141.74" height="80.60" fill="rgb(254,251,250)" stroke="none" stroke-width="1"/>
<rect x="970.35" y="1531.70" width="141.74" height="80.60" fill="rgb(251,226,222)" stroke="none" stroke-width="1"/>
<rect x="1111.79" y="1531.70" width="141.74" height="80.60" fill="rgb(243,127,122)" stroke="none" stroke-width="1"/>
<rect x="1253.23" y="1531.70" width="141.74" height="80.60" fill="rgb(249,218,213)" stroke="none" stroke-width="1"/>
<rect x="1394.67" y="1531.70" width="141.74" height="80.60" fill="rgb(255,253,253)" stroke="none" stroke-width="1"/>
<rect x="1536.12" y="1531.70" width="141.74" height="80.60" fill="rgb(252,237,235)" stroke="none" stroke-width="1"/>
<rect x="1677.56" y="1531.70" width="141.74" height="80.60" fill="rgb(252,237,235)" stroke="none" stroke-width="1"/>
<g stroke="#000" stroke-opacity="0.5" stroke-width="2.2">
<line x1="121.70" y1="727.80" x2="121.70" y2="1612.90"/>
<line x1="263.14" y1="727.80" x2="263.14" y2="1612.90"/>
<line x1="404.58" y1="727.80" x2="404.58" y2="1612.90"/>
<line x1="546.02" y1="727.80" x2="546.02" y2="1612.90"/>
<line x1="687.47" y1="727.80" x2="687.47" y2="1612.90"/>
<line x1="828.91" y1="727.80" x2="828.91" y2="1612.90"/>
<line x1="970.35" y1="727.80" x2="970.35" y2="1612.90"/>
<line x1="1111.79" y1="727.80" x2="1111.79" y2="1612.90"/>
<line x1="1253.23" y1="727.80" x2="1253.23" y2="1612.90"/>
<line x1="1394.67" y1="727.80" x2="1394.67" y2="1612.90"/>
<line x1="1536.12" y1="727.80" x2="1536.12" y2="1612.90"/>
<line x1="1677.56" y1="727.80" x2="1677.56" y2="1612.90"/>
<line x1="1819.00" y1="727.80" x2="1819.00" y2="1612.90"/>
<line x1="120.80" y1="728.70" x2="1819.90" y2="728.70"/>
<line x1="120.80" y1="809.00" x2="1819.90" y2="809.00"/>
<line x1="120.80" y1="889.30" x2="1819.90" y2="889.30"/>
<line x1="120.80" y1="969.60" x2="1819.90" y2="969.60"/>
<line x1="120.80" y1="1049.90" x2="1819.90" y2="1049.90"/>
<line x1="120.80" y1="1130.20" x2="1819.90" y2="1130.20"/>
<line x1="120.80" y1="1210.50" x2="1819.90" y2="1210.50"/>
<line x1="120.80" y1="1290.80" x2="1819.90" y2="1290.80"/>
<line x1="120.80" y1="1371.10" x2="1819.90" y2="1371.10"/>
<line x1="120.80" y1="1451.40" x2="1819.90" y2="1451.40"/>
<line x1="120.80" y1="1531.70" x2="1819.90" y2="1531.70"/>
<line x1="120.80" y1="1612.00" x2="1819.90" y2="1612.00"/>
</g>
<text x="109.60" y="779.25" font-size="31.5" text-anchor="end" fill="#000">2009</text>
<text x="191.42" y="779.25" font-size="31.5" text-anchor="middle" fill="#000">0</text>
<text x="333.06" y="779.25" font-size="31.5" text-anchor="middle" fill="#000">0</text>
<text x="474.70" y="779.25" font-size="31.5" text-anchor="middle" fill="#000">6</text>
<text x="616.35" y="779.25" font-size="31.5" text-anchor="middle" fill="#000">5</text>
<text x="757.99" y="779.25" font-size="31.5" text-anchor="middle" fill="#000">0</text>
<text x="899.63" y="779.25" font-size="31.5" text-anchor="middle" fill="#000">2</text>
<text x="1041.27" y="779.25" font-size="31.5" text-anchor="middle" fill="#000">60</text>
<text x="1182.91" y="779.25" font-size="31.5" text-anchor="middle" fill="#000">106</text>
<text x="1324.55" y="779.25" font-size="31.5" text-anchor="middle" fill="#000">84</text>
<text x="1466.20" y="779.25" font-size="31.5" text-anchor="middle" fill="#000">18</text>
<text x="1607.84" y="779.25" font-size="31.5" text-anchor="middle" fill="#000">10</text>
<text x="1749.48" y="779.25" font-size="31.5" text-anchor="middle" fill="#000">1</text>
<text x="109.60" y="859.74" font-size="31.5" text-anchor="end" fill="#000">2010</text>
<text x="191.42" y="859.74" font-size="31.5" text-anchor="middle" fill="#000">15</text>
<text x="333.06" y="859.74" font-size="31.5" text-anchor="middle" fill="#000">20</text>
<text x="474.70" y="859.74" font-size="31.5" text-anchor="middle" fill="#000">0</text>
<text x="616.35" y="859.74" font-size="31.5" text-anchor="middle" fill="#000">1</text>
<text x="757.99" y="859.74" font-size="31.5" text-anchor="middle" fill="#000">0</text>
<text x="899.63" y="859.74" font-size="31.5" text-anchor="middle" fill="#000">6</text>
<text x="1041.27" y="859.74" font-size="31.5" text-anchor="middle" fill="#000">166</text>
<text x="1182.91" y="859.74" font-size="31.5" text-anchor="middle" fill="#fff">516</text>
<text x="1324.55" y="859.74" font-size="31.5" text-anchor="middle" fill="#000">246</text>
<text x="1466.20" y="859.74" font-size="31.5" text-anchor="middle" fill="#000">5</text>
<text x="1607.84" y="859.74" font-size="31.5" text-anchor="middle" fill="#000">30</text>
<text x="1749.48" y="859.74" font-size="31.5" text-anchor="middle" fill="#000">24</text>
<text x="109.60" y="940.23" font-size="31.5" text-anchor="end" fill="#000">2011</text>
<text x="191.42" y="940.23" font-size="31.5" text-anchor="middle" fill="#000">0</text>
<text x="333.06" y="940.23" font-size="31.5" text-anchor="middle" fill="#000">56</text>
<text x="474.70" y="940.23" font-size="31.5" text-anchor="middle" fill="#000">4</text>
<text x="616.35" y="940.23" font-size="31.5" text-anchor="middle" fill="#000">4</text>
<text x="757.99" y="940.23" font-size="31.5" text-anchor="middle" fill="#000">0</text>
<text x="899.63" y="940.23" font-size="31.5" text-anchor="middle" fill="#000">43</text>
<text x="1041.27" y="940.23" font-size="31.5" text-anchor="middle" fill="#000">194</text>
<text x="1182.91" y="940.23" font-size="31.5" text-anchor="middle" fill="#000">267</text>
<text x="1324.55" y="940.23" font-size="31.5" text-anchor="middle" fill="#000">120</text>
<text x="1466.20" y="940.23" font-size="31.5" text-anchor="middle" fill="#000">1</text>
<text x="1607.84" y="940.23" font-size="31.5" text-anchor="middle" fill="#000">0</text>
<text x="1749.48" y="940.23" font-size="31.5" text-anchor="middle" fill="#000">1</text>
<text x="109.60" y="1020.72" font-size="31.5" text-anchor="end" fill="#000">2012</text>
<text x="191.42" y="1020.72" font-size="31.5" text-anchor="middle" fill="#000">10</text>
<text x="333.06" y="1020.72" font-size="31.5" text-anchor="middle" fill="#000">0</text>
<text x="474.70" y="1020.72" font-size="31.5" text-anchor="middle" fill="#000">0</text>
<text x="616.35" y="1020.72" font-size="31.5" text-anchor="middle" fill="#000">1</text>
<text x="757.99" y="1020.72" font-size="31.5" text-anchor="middle" fill="#000">0</text>
<text x="899.63" y="1020.72" font-size="31.5" text-anchor="middle" fill="#000">2</text>
<text x="1041.27" y="1020.72" font-size="31.5" text-anchor="middle" fill="#000">131</text>
<text x="1182.91" y="1020.72" font-size="31.5" text-anchor="middle" fill="#000">141</text>
<text x="1324.55" y="1020.72" font-size="31.5" text-anchor="middle" fill="#000">48</text>
<text x="1466.20" y="1020.72" font-size="31.5" text-anchor="middle" fill="#000">0</text>
<text x="1607.84" y="1020.72" font-size="31.5" text-anchor="middle" fill="#000">0</text>
<text x="1749.48" y="1020.72" font-size="31.5" text-anchor="middle" fill="#000">0</text>
<text x="109.60" y="1101.21" font-size="31.5" text-anchor="end" fill="#000">2013</text>
<text x="191.42" y="1101.21" font-size="31.5" text-anchor="middle" fill="#000">11</text>
<text x="333.06" y="1101.21" font-size="31.5" text-anchor="middle" fill="#000">44</text>
<text x="474.70" y="1101.21" font-size="31.5" text-anchor="middle" fill="#000">0</text>
<text x="616.35" y="1101.21" font-size="31.5" text-anchor="middle" fill="#000">0</text>
<text x="757.99" y="1101.21" font-size="31.5" text-anchor="middle" fill="#000">0</text>
<text x="899.63" y="1101.21" font-size="31.5" text-anchor="middle" fill="#000">35</text>
<text x="1041.27" y="1101.21" font-size="31.5" text-anchor="middle" fill="#000">114</text>
<text x="1182.91" y="1101.21" font-size="31.5" text-anchor="middle" fill="#000">125</text>
<text x="1324.55" y="1101.21" font-size="31.5" text-anchor="middle" fill="#000">24</text>
<text x="1466.20" y="1101.21" font-size="31.5" text-anchor="middle" fill="#000">18</text>
<text x="1607.84" y="1101.21" font-size="31.5" text-anchor="middle" fill="#000">8</text>
<text x="1749.48" y="1101.21" font-size="31.5" text-anchor="middle" fill="#000">19</text>
<text x="109.60" y="1181.70" font-size="31.5" text-anchor="end" fill="#000">2014</text>
<text x="191.42" y="1181.70" font-size="31.5" text-anchor="middle" fill="#000">60</text>
<text x="333.06" y="1181.70" font-size="31.5" text-anchor="middle" fill="#000">12</text>
<text x="474.70" y="1181.70" font-size="31.5" text-anchor="middle" fill="#000">1</text>
<text x="616.35" y="1181.70" font-size="31.5" text-anchor="middle" fill="#000">2</text>
<text x="757.99" y="1181.70" font-size="31.5" text-anchor="middle" fill="#000">10</text>
<text x="899.63" y="1181.70" font-size="31.5" text-anchor="middle" fill="#000">1</text>
<text x="1041.27" y="1181.70" font-size="31.5" text-anchor="middle" fill="#000">31</text>
<text x="1182.91" y="1181.70" font-size="31.5" text-anchor="middle" fill="#000">42</text>
<text x="1324.55" y="1181.70" font-size="31.5" text-anchor="middle" fill="#000">24</text>
<text x="1466.20" y="1181.70" font-size="31.5" text-anchor="middle" fill="#000">12</text>
<text x="1607.84" y="1181.70" font-size="31.5" text-anchor="middle" fill="#000">0</text>
<text x="1749.48" y="1181.70" font-size="31.5" text-anchor="middle" fill="#000">3</text>
<text x="109.60" y="1262.19" font-size="31.5" text-anchor="end" fill="#000">2015</text>
<text x="191.42" y="1262.19" font-size="31.5" text-anchor="middle" fill="#000">18</text>
<text x="333.06" y="1262.19" font-size="31.5" text-anchor="middle" fill="#000">7</text>
<text x="474.70" y="1262.19" font-size="31.5" text-anchor="middle" fill="#000">48</text>
<text x="616.35" y="1262.19" font-size="31.5" text-anchor="middle" fill="#000">5</text>
<text x="757.99" y="1262.19" font-size="31.5" text-anchor="middle" fill="#000">0</text>
<text x="899.63" y="1262.19" font-size="31.5" text-anchor="middle" fill="#000">17</text>
<text x="1041.27" y="1262.19" font-size="31.5" text-anchor="middle" fill="#000">63</text>
<text x="1182.91" y="1262.19" font-size="31.5" text-anchor="middle" fill="#000">22</text>
<text x="1324.55" y="1262.19" font-size="31.5" text-anchor="middle" fill="#000">5</text>
<text x="1466.20" y="1262.19" font-size="31.5" text-anchor="middle" fill="#000">18</text>
<text x="1607.84" y="1262.19" font-size="31.5" text-anchor="middle" fill="#000">0</text>
<text x="1749.48" y="1262.19" font-size="31.5" text-anchor="middle" fill="#000">0</text>
<text x="109.60" y="1342.68" font-size="31.5" text-anchor="end" fill="#000">2016</text>
<text x="191.42" y="1342.68" font-size="31.5" text-anchor="middle" fill="#000">0</text>
<text x="333.06" y="1342.68" font-size="31.5" text-anchor="middle" fill="#000">0</text>
<text x="474.70" y="1342.68" font-size="31.5" text-anchor="middle" fill="#000">1</text>
<text x="616.35" y="1342.68" font-size="31.5" text-anchor="middle" fill="#000">0</text>
<text x="757.99" y="1342.68" font-size="31.5" text-anchor="middle" fill="#000">1</text>
<text x="899.63" y="1342.68" font-size="31.5" text-anchor="middle" fill="#000">2</text>
<text x="1041.27" y="1342.68" font-size="31.5" text-anchor="middle" fill="#000">93</text>
<text x="1182.91" y="1342.68" font-size="31.5" text-anchor="middle" fill="#000">97</text>
<text x="1324.55" y="1342.68" font-size="31.5" text-anchor="middle" fill="#000">7</text>
<text x="1466.20" y="1342.68" font-size="31.5" text-anchor="middle" fill="#000">0</text>
<text x="1607.84" y="1342.68" font-size="31.5" text-anchor="middle" fill="#000">0</text>
<text x="1749.48" y="1342.68" font-size="31.5" text-anchor="middle" fill="#000">0</text>
<text x="109.60" y="1423.17" font-size="31.5" text-anchor="end" fill="#000">2017</text>
<text x="191.42" y="1423.17" font-size="31.5" text-anchor="middle" fill="#000">29</text>
<text x="333.06" y="1423.17" font-size="31.5" text-anchor="middle" fill="#000">0</text>
<text x="474.70" y="1423.17" font-size="31.5" text-anchor="middle" fill="#000">2</text>
<text x="616.35" y="1423.17" font-size="31.5" text-anchor="middle" fill="#000">0</text>
<text x="757.99" y="1423.17" font-size="31.5" text-anchor="middle" fill="#000">0</text>
<text x="899.63" y="1423.17" font-size="31.5" text-anchor="middle" fill="#000">40</text>
<text x="1041.27" y="1423.17" font-size="31.5" text-anchor="middle" fill="#000">66</text>
<text x="1182.91" y="1423.17" font-size="31.5" text-anchor="middle" fill="#000">63</text>
<text x="1324.55" y="1423.17" font-size="31.5" text-anchor="middle" fill="#000">89</text>
<text x="1466.20" y="1423.17" font-size="31.5" text-anchor="middle" fill="#000">0</text>
<text x="1607.84" y="1423.17" font-size="31.5" text-anchor="middle" fill="#000">0</text>
<text x="1749.48" y="1423.17" font-size="31.5" text-anchor="middle" fill="#000">3</text>
<text x="109.60" y="1503.66" font-size="31.5" text-anchor="end" fill="#000">2018</text>
<text x="191.42" y="1503.66" font-size="31.5" text-anchor="middle" fill="#000">2</text>
<text x="333.06" y="1503.66" font-size="31.5" text-anchor="middle" fill="#000">6</text>
<text x="474.70" y="1503.66" font-size="31.5" text-anchor="middle" fill="#000">0</text>
<text x="616.35" y="1503.66" font-size="31.5" text-anchor="middle" fill="#000">0</text>
<text x="757.99" y="1503.66" font-size="31.5" text-anchor="middle" fill="#000">0</text>
<text x="899.63" y="1503.66" font-size="31.5" text-anchor="middle" fill="#000">19</text>
<text x="1041.27" y="1503.66" font-size="31.5" text-anchor="middle" fill="#000">135</text>
<text x="1182.91" y="1503.66" font-size="31.5" text-anchor="middle" fill="#000">78</text>
<text x="1324.55" y="1503.66" font-size="31.5" text-anchor="middle" fill="#000">152</text>
<text x="1466.20" y="1503.66" font-size="31.5" text-anchor="middle" fill="#000">3</text>
<text x="1607.84" y="1503.66" font-size="31.5" text-anchor="middle" fill="#000">0</text>
<text x="1749.48" y="1503.66" font-size="31.5" text-anchor="middle" fill="#000">0</text>
<text x="109.60" y="1584.15" font-size="31.5" text-anchor="end" fill="#000">2019</text>
<text x="191.42" y="1584.15" font-size="31.5" text-anchor="middle" fill="#000">13</text>
<text x="333.06" y="1584.15" font-size="31.5" text-anchor="middle" fill="#000">4</text>
<text x="474.70" y="1584.15" font-size="31.5" text-anchor="middle" fill="#000">2</text>
<text x="616.35" y="1584.15" font-size="31.5" text-anchor="middle" fill="#000">14</text>
<text x="757.99" y="1584.15" font-size="31.5" text-anchor="middle" fill="#000">1</text>
<text x="899.63" y="1584.15" font-size="31.5" text-anchor="middle" fill="#000">8</text>
<text x="1041.27" y="1584.15" font-size="31.5" text-anchor="middle" fill="#000">54</text>
<text x="1182.91" y="1584.15" font-size="31.5" text-anchor="middle" fill="#000">256</text>
<text x="1324.55" y="1584.15" font-size="31.5" text-anchor="middle" fill="#000">70</text>
<text x="1466.20" y="1584.15" font-size="31.5" text-anchor="middle" fill="#000">4</text>
<text x="1607.84" y="1584.15" font-size="31.5" text-anchor="middle" fill="#000">33</text>
<text x="1749.48" y="1584.15" font-size="31.5" text-anchor="middle" fill="#000">33</text>
<text x="191.42" y="1651.50" font-size="31.5" text-anchor="middle" fill="#000">1</text>
<text x="333.06" y="1651.50" font-size="31.5" text-anchor="middle" fill="#000">2</text>
<text x="474.70" y="1651.50" font-size="31.5" text-anchor="middle" fill="#000">3</text>
<text x="616.35" y="1651.50" font-size="31.5" text-anchor="middle" fill="#000">4</text>
<text x="757.99" y="1651.50" font-size="31.5" text-anchor="middle" fill="#000">5</text>
<text x="899.63" y="1651.50" font-size="31.5" text-anchor="middle" fill="#000">6</text>
<text x="1041.27" y="1651.50" font-size="31.5" text-anchor="middle" fill="#000">7</text>
<text x="1182.91" y="1651.50" font-size="31.5" text-anchor="middle" fill="#000">8</text>
<text x="1324.55" y="1651.50" font-size="31.5" text-anchor="middle" fill="#000">9</text>
<text x="1466.20" y="1651.50" font-size="31.5" text-anchor="middle" fill="#000">10</text>
<text x="1607.84" y="1651.50" font-size="31.5" text-anchor="middle" fill="#000">11</text>
<text x="1749.48" y="1651.50" font-size="31.5" text-anchor="middle" fill="#000">12</text>
<text transform="translate(970.00 1691.50) scale(1.01 1)" font-size="34" text-anchor="middle" fill="#000">Month</text>
<text transform="translate(33.80 1169.20) rotate(-90) scale(1.045 1)" font-size="34" text-anchor="middle" fill="#000">Year</text>
<text transform="translate(970.70 717.40) scale(1.03 1)" font-size="33" text-anchor="middle" font-weight="bold" fill="#0d0d0d">Palla, Delhi</text>
<text x="56.00" y="718.20" font-size="46" text-anchor="middle" fill="#000">(c)</text>
<defs><linearGradient id="cb" x1="0" y1="1" x2="0" y2="0">
<stop offset="0.000" stop-color="rgb(255,255,255)"/>
<stop offset="0.100" stop-color="rgb(251,228,224)"/>
<stop offset="0.200" stop-color="rgb(247,202,196)"/>
<stop offset="0.300" stop-color="rgb(243,172,162)"/>
<stop offset="0.400" stop-color="rgb(242,151,143)"/>
<stop offset="0.500" stop-color="rgb(243,130,125)"/>
<stop offset="0.600" stop-color="rgb(245,105,100)"/>
<stop offset="0.700" stop-color="rgb(247,80,76)"/>
<stop offset="0.800" stop-color="rgb(250,54,52)"/>
<stop offset="0.900" stop-color="rgb(252,27,27)"/>
<stop offset="1.000" stop-color="rgb(255,0,0)"/>
</linearGradient></defs>
<rect x="1835.20" y="728.70" width="31.00" height="883.30" fill="url(#cb)" stroke="#000" stroke-width="1.9" stroke-opacity="0.6"/>
<text x="1876.20" y="1623.20" font-size="27.7" text-anchor="start" fill="#000">0</text>
<line x1="1858.70" y1="1523.67" x2="1866.20" y2="1523.67" stroke="#000" stroke-width="1.6" stroke-opacity="0.65"/>
<text x="1876.20" y="1534.67" font-size="27.7" text-anchor="start" fill="#000">50</text>
<line x1="1858.70" y1="1435.34" x2="1866.20" y2="1435.34" stroke="#000" stroke-width="1.6" stroke-opacity="0.65"/>
<text x="1876.20" y="1446.14" font-size="27.7" text-anchor="start" fill="#000">100</text>
<line x1="1858.70" y1="1347.01" x2="1866.20" y2="1347.01" stroke="#000" stroke-width="1.6" stroke-opacity="0.65"/>
<text x="1876.20" y="1357.61" font-size="27.7" text-anchor="start" fill="#000">150</text>
<line x1="1858.70" y1="1258.68" x2="1866.20" y2="1258.68" stroke="#000" stroke-width="1.6" stroke-opacity="0.65"/>
<text x="1876.20" y="1269.08" font-size="27.7" text-anchor="start" fill="#000">200</text>
<line x1="1858.70" y1="1170.35" x2="1866.20" y2="1170.35" stroke="#000" stroke-width="1.6" stroke-opacity="0.65"/>
<text x="1876.20" y="1180.55" font-size="27.7" text-anchor="start" fill="#000">250</text>
<line x1="1858.70" y1="1082.02" x2="1866.20" y2="1082.02" stroke="#000" stroke-width="1.6" stroke-opacity="0.65"/>
<text x="1876.20" y="1092.02" font-size="27.7" text-anchor="start" fill="#000">300</text>
<line x1="1858.70" y1="993.69" x2="1866.20" y2="993.69" stroke="#000" stroke-width="1.6" stroke-opacity="0.65"/>
<text x="1876.20" y="1003.49" font-size="27.7" text-anchor="start" fill="#000">350</text>
<line x1="1858.70" y1="905.36" x2="1866.20" y2="905.36" stroke="#000" stroke-width="1.6" stroke-opacity="0.65"/>
<text x="1876.20" y="914.96" font-size="27.7" text-anchor="start" fill="#000">400</text>
<line x1="1858.70" y1="817.03" x2="1866.20" y2="817.03" stroke="#000" stroke-width="1.6" stroke-opacity="0.65"/>
<text x="1876.20" y="826.43" font-size="27.7" text-anchor="start" fill="#000">450</text>
<text x="1876.20" y="737.90" font-size="27.7" text-anchor="start" fill="#000">500</text>
<text transform="translate(1992.60 1189.50) rotate(-90)" font-size="30.5" text-anchor="middle" font-weight="bold" fill="#000">Rainfall (mm)</text>
</g>
</svg></body></html>
